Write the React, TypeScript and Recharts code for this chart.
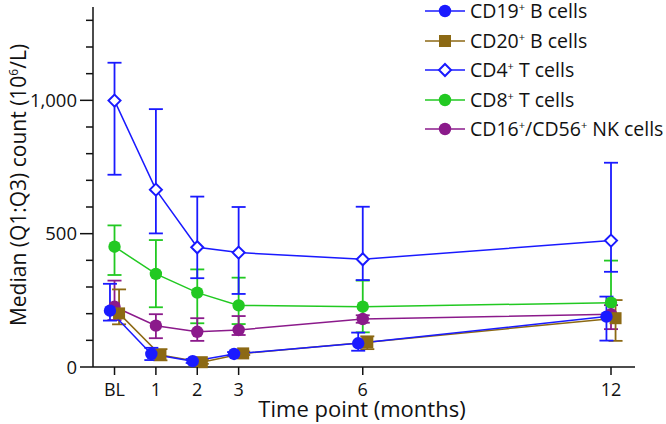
import React from "react";
import { LineChart, Line, XAxis, YAxis, ErrorBar } from "recharts";

// time points in months (BL = baseline = 0)
const months = [0, 1, 2, 3, 6, 12];
const monthLabels = ["BL", "1", "2", "3", "6", "12"];
const yTicks = [0, 100, 200, 300, 400, 500, 600, 700, 800, 900, 1000, 1100, 1200, 1300];
const yLabelled = [0, 500, 1000];

// median with Q1 / Q3 per cell type
const cd19Median = [211, 49, 22, 49, 89, 189];
const cd19Q1 = [174, 26, 15, 43, 61, 99];
const cd19Q3 = [312, 72, 30, 56, 129, 264];

const cd20Median = [201, 45, 18, 51, 93, 183];
const cd20Q1 = [160, 25, 12, 45, 67, 98];
const cd20Q3 = [291, 67, 26, 58, 115, 251];

const cd4Median = [999, 665, 449, 429, 404, 474];
const cd4Q1 = [721, 501, 333, 274, 326, 357];
const cd4Q3 = [1141, 967, 639, 600, 601, 766];

const cd8Median = [451, 349, 279, 231, 226, 241];
const cd8Q1 = [345, 224, 164, 161, 130, 185];
const cd8Q3 = [531, 476, 366, 335, 324, 399];

const nkMedian = [226, 155, 132, 139, 180, 198];
const nkQ1 = [176, 108, 98, 120, 166, 142];
const nkQ3 = [324, 198, 183, 191, 194, 232];

const BLUE = "#1a1aff";
const BROWN = "#8c6914";
const GREEN = "#22c922";
const PURPLE = "#8b1a8b";
const FONT = "'Open Sans', 'Noto Sans', sans-serif";

// small horizontal nudge so the two B-cell series don't sit on top of each other
function build(median: number[], q1: number[], q3: number[], nudge = 0) {
  return months.map((m, i) => ({
    x: m + nudge,
    median: median[i],
    err: [median[i] - q1[i], q3[i] - median[i]],
  }));
}

const cd19Data = build(cd19Median, cd19Q1, cd19Q3, -0.11);
const cd20Data = build(cd20Median, cd20Q1, cd20Q3, 0.11);
const cd4Data = build(cd4Median, cd4Q1, cd4Q3);
const cd8Data = build(cd8Median, cd8Q1, cd8Q3);
const nkData = build(nkMedian, nkQ1, nkQ3);

type Marker = "circle" | "square" | "diamond";

function markerShape(kind: Marker, color: string, cx: number, cy: number, key?: string) {
  if (kind === "square") return <rect key={key} x={cx - 6} y={cy - 6} width={12} height={12} fill={color} />;
  if (kind === "diamond")
    return (
      <path
        key={key}
        d={`M${cx},${cy - 6} L${cx + 6},${cy} L${cx},${cy + 6} L${cx - 6},${cy} Z`}
        fill="#fff"
        stroke={color}
        strokeWidth={2}
      />
    );
  return <circle key={key} cx={cx} cy={cy} r={6.2} fill={color} />;
}

const dotFor = (kind: Marker, color: string) => (p: any) =>
  markerShape(kind, color, p.cx, p.cy, `d-${kind}-${color}-${p.index}`);

function YTick({ x, y, payload }: any) {
  const major = yLabelled.includes(payload.value);
  const len = major ? 13 : 7;
  return (
    <g>
      <line x1={x} x2={x - len} y1={y} y2={y} stroke="#111" strokeWidth={1.5} />
      {major && (
        <text x={x - 16} y={y + 6.5} textAnchor="end" fontSize={18.5} fontFamily={FONT} fill="#111">
          {payload.value.toLocaleString("en-US")}
        </text>
      )}
    </g>
  );
}

function XTick({ x, y, payload }: any) {
  const i = months.indexOf(payload.value);
  return (
    <g>
      <line x1={x} x2={x} y1={y} y2={y + 8} stroke="#111" strokeWidth={1.5} />
      <text x={x} y={y + 29} textAnchor="middle" fontSize={18} fontFamily={FONT} fill="#111">
        {monthLabels[i]}
      </text>
    </g>
  );
}

const legendItems: { name: string; parts: string[]; color: string; marker: Marker }[] = [
  { name: "cd19", parts: ["CD19", " B cells"], color: BLUE, marker: "circle" },
  { name: "cd20", parts: ["CD20", " B cells"], color: BROWN, marker: "square" },
  { name: "cd4", parts: ["CD4", " T cells"], color: BLUE, marker: "diamond" },
  { name: "cd8", parts: ["CD8", " T cells"], color: GREEN, marker: "circle" },
  { name: "nk", parts: ["CD16", "/CD56", " NK cells"], color: PURPLE, marker: "circle" },
];

function LegendBox() {
  return (
    <div style={{ position: "absolute", left: 425, top: 1, fontFamily: FONT, fontSize: 19.5, lineHeight: 1, color: "#111" }}>
      {legendItems.map((it, i) => (
        <div key={it.name} style={{ display: "flex", alignItems: "center", height: 20, marginTop: i === 0 ? 0 : 9.5 }}>
          <svg width={40} height={16} style={{ marginRight: 5 }}>
            <line x1={0} x2={40} y1={8} y2={8} stroke={it.color} strokeWidth={1.5} />
            {markerShape(it.marker, it.color, 20, 8)}
          </svg>
          <span style={{ whiteSpace: "nowrap" }}>
            {it.parts.map((p, j) => (
              <React.Fragment key={j}>
                {p}
                {j < it.parts.length - 1 && (
                  <span style={{ fontSize: 11, verticalAlign: 7 }}>+</span>
                )}
              </React.Fragment>
            ))}
          </span>
        </div>
      ))}
    </div>
  );
}

const series = [
  { key: "cd8", data: cd8Data, color: GREEN, marker: "circle" as Marker },
  { key: "nk", data: nkData, color: PURPLE, marker: "circle" as Marker },
  { key: "cd4", data: cd4Data, color: BLUE, marker: "diamond" as Marker },
  { key: "cd20", data: cd20Data, color: BROWN, marker: "square" as Marker },
  { key: "cd19", data: cd19Data, color: BLUE, marker: "circle" as Marker },
];

export default function App() {
  return (
    <div style={{ position: "absolute", left: 0, top: 0, width: 666, height: 424, background: "#fff" }}>
      <LineChart width={666} height={424} margin={{ top: 7, right: 31, bottom: 7, left: 0 }}>
        <XAxis
          type="number"
          dataKey="x"
          domain={[-0.52, 12.58]}
          ticks={months}
          allowDuplicatedCategory={false}
          tick={<XTick />}
          tickLine={false}
          tickSize={0}
          tickMargin={0}
          height={50}
          stroke="#111"
          strokeWidth={1.5}
          label={{
            content: () => (
              <text x={362} y={417} textAnchor="middle" fontSize={22} fontFamily={FONT} fill="#111">
                Time point (months)
              </text>
            ),
          }}
        />
        <YAxis
          type="number"
          domain={[0, 1350]}
          ticks={yTicks}
          tick={<YTick />}
          tickLine={false}
          tickSize={0}
          tickMargin={0}
          width={93}
          stroke="#111"
          strokeWidth={1.5}
          label={{
            content: () => (
              <text
                x={26}
                y={185}
                transform="rotate(-90, 26, 185)"
                textAnchor="middle"
                fontSize={21}
                fontFamily={FONT}
                fill="#111"
              >
                Median (Q1:Q3) count (10
                <tspan fontSize={12} dy={-8}>6</tspan>
                <tspan dy={8}>/L)</tspan>
              </text>
            ),
          }}
        />
        {series.map((s) => (
          <Line
            key={s.key}
            data={s.data}
            dataKey="median"
            stroke={s.color}
            strokeWidth={1.5}
            dot={dotFor(s.marker, s.color)}
            activeDot={false}
            isAnimationActive={false}
          >
            <ErrorBar dataKey="err" direction="y" width={7} stroke={s.color} strokeWidth={1.8} />
          </Line>
        ))}
      </LineChart>
      <LegendBox />
    </div>
  );
}
